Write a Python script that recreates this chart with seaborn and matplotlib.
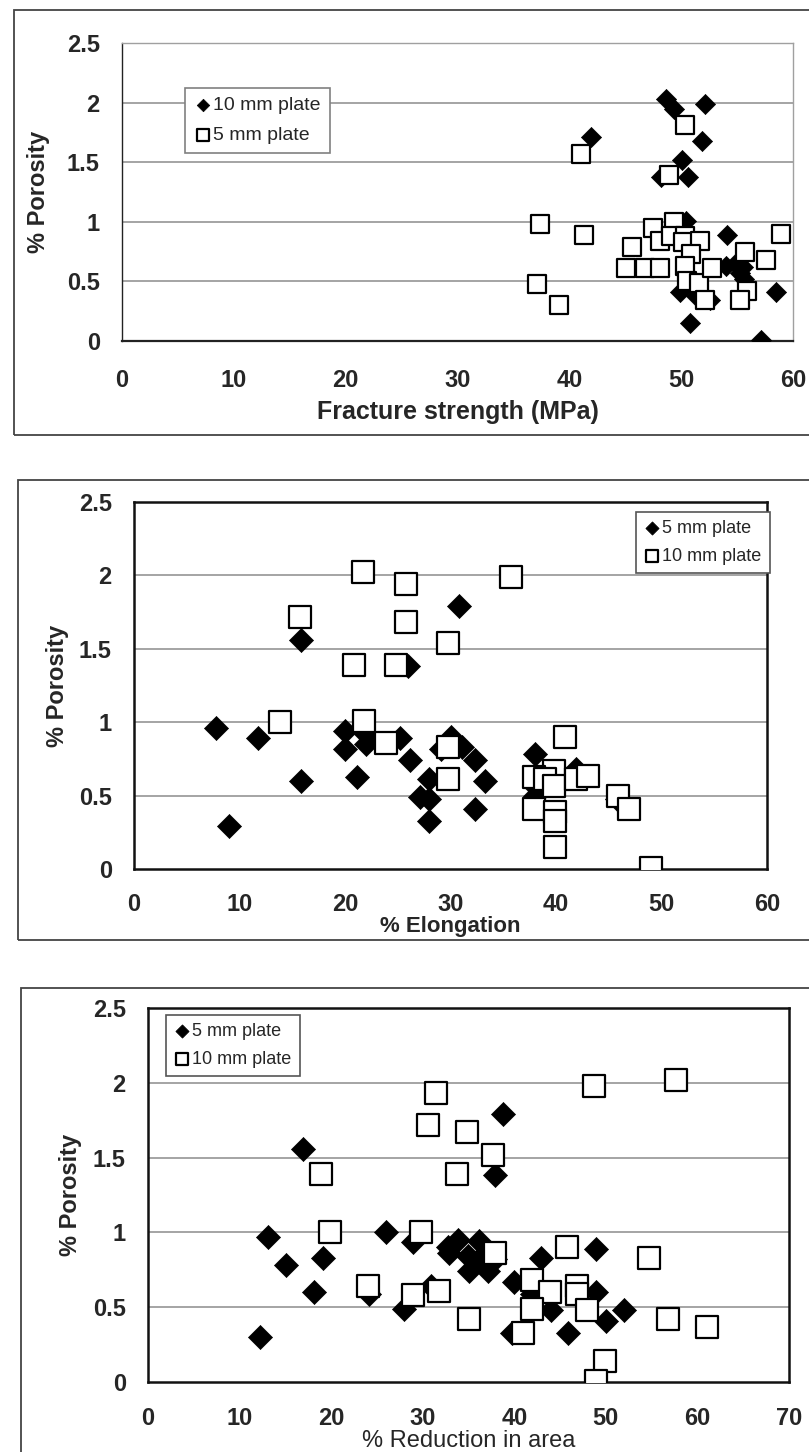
import matplotlib
matplotlib.use("Agg")
import matplotlib.pyplot as plt
import seaborn as sns
import pandas as pd
from matplotlib.patches import Rectangle
from matplotlib.ticker import FuncFormatter

# ---- porosity vs fracture strength ----
fs_10mm_x = [48.6, 49.4, 52.1, 41.9, 51.9, 50.1, 48.2, 50.6, 50.4, 54.1, 54.0,
             55.2, 55.5, 55.3, 55.6, 55.0, 49.9, 51.3, 52.6, 50.8, 58.5, 57.1]
fs_10mm_y = [2.03, 1.95, 1.99, 1.71, 1.68, 1.52, 1.38, 1.38, 1.01, 0.89, 0.63,
             0.68, 0.62, 0.57, 0.52, 0.64, 0.41, 0.38, 0.34, 0.15, 0.41, 0.01]
fs_5mm_x = [50.3, 41.0, 48.9, 37.4, 41.3, 37.1, 39.1, 45.6, 45.1, 46.8, 48.1,
            47.5, 48.1, 49.4, 49.1, 50.3, 50.2, 51.7, 50.9, 50.3, 50.5, 51.6,
            52.1, 52.8, 55.7, 55.9, 55.3, 57.6, 58.9]
fs_5mm_y = [1.81, 1.57, 1.39, 0.98, 0.89, 0.48, 0.30, 0.79, 0.61, 0.61, 0.61,
            0.95, 0.84, 1.00, 0.88, 0.88, 0.83, 0.84, 0.73, 0.63, 0.50, 0.49,
            0.34, 0.61, 0.75, 0.42, 0.34, 0.68, 0.90]

# ---- porosity vs elongation ----
el_5mm_x = [7.8, 9.0, 11.8, 15.8, 15.8, 20.0, 20.0, 21.1, 22.0, 22.0, 25.2,
            26.0, 26.2, 27.1, 28.0, 28.0, 28.0, 29.1, 30.0, 31.1, 30.8, 32.3,
            32.3, 33.3, 38.0, 38.0, 37.9, 41.9, 45.8]
el_5mm_y = [0.96, 0.29, 0.89, 1.56, 0.60, 0.94, 0.82, 0.63, 0.92, 0.85, 0.89,
            1.38, 0.74, 0.49, 0.61, 0.48, 0.33, 0.82, 0.90, 0.83, 1.79, 0.74,
            0.41, 0.60, 0.78, 0.50, 0.57, 0.68, 0.48]
el_10mm_x = [21.7, 25.8, 35.7, 15.7, 25.8, 29.8, 20.9, 24.8, 13.8, 21.8, 23.9,
             29.8, 29.8, 40.9, 39.8, 37.9, 39.0, 39.8, 41.9, 43.0, 37.9, 39.9,
             39.9, 39.9, 45.9, 46.9, 49.0]
el_10mm_y = [2.02, 1.94, 1.99, 1.72, 1.68, 1.54, 1.39, 1.39, 1.00, 1.01, 0.86,
             0.83, 0.61, 0.90, 0.67, 0.63, 0.61, 0.565, 0.61, 0.635, 0.41, 0.39,
             0.33, 0.15, 0.50, 0.41, 0.01]

# ---- porosity vs reduction in area ----
ra_5mm_x = [16.9, 38.8, 37.9, 13.1, 26.0, 15.1, 19.1, 18.1, 12.2, 24.1, 28.9,
            28.0, 30.9, 32.8, 33.8, 32.9, 36.1, 34.9, 36.2, 35.1, 37.1, 37.9,
            42.9, 48.9, 40.0, 41.9, 44.0, 48.9, 52.0, 50.0, 45.9, 39.7]
ra_5mm_y = [1.555, 1.79, 1.385, 0.97, 1.00, 0.78, 0.83, 0.60, 0.30, 0.59, 0.935,
            0.49, 0.64, 0.90, 0.95, 0.86, 0.945, 0.845, 0.82, 0.745, 0.745, 0.825,
            0.83, 0.89, 0.67, 0.59, 0.48, 0.60, 0.48, 0.41, 0.33, 0.33]
ra_10mm_x = [31.5, 48.7, 57.7, 30.6, 34.8, 37.7, 18.9, 33.7, 19.9, 29.8, 24.0,
             28.9, 31.8, 35.1, 37.9, 45.8, 54.7, 41.9, 43.9, 46.9, 46.9, 41.9,
             47.9, 41.0, 56.8, 61.0, 49.9, 48.9]
ra_10mm_y = [1.93, 1.98, 2.02, 1.715, 1.67, 1.52, 1.39, 1.39, 1.005, 1.005, 0.64,
             0.58, 0.61, 0.42, 0.86, 0.90, 0.83, 0.68, 0.60, 0.64, 0.59, 0.49,
             0.48, 0.33, 0.42, 0.37, 0.14, 0.01]

y_ticks = [0, 0.5, 1, 1.5, 2, 2.5]

sns.set_style("white")
plt.rcParams["font.family"] = ["Liberation Sans", "DejaVu Sans"]

W, H = 809, 1452
fig = plt.figure(figsize=(W / 100, H / 100), dpi=100)


def frac_rect(left, top, right, bottom):
    return [left / W, 1 - bottom / H, (right - left) / W, (bottom - top) / H]


def panel_border(left, top, bottom):
    fig.add_artist(Rectangle((left / W, 1 - bottom / H), 1.2, (bottom - top) / H,
                             transform=fig.transFigure, fill=False,
                             edgecolor="#444444", linewidth=1.3))


def draw_panel(ax, diam_x, diam_y, diam_lab, sq_x, sq_y, sq_lab, xmax,
               d_size, s_size):
    d = pd.DataFrame({"x": diam_x, "y": diam_y})
    s = pd.DataFrame({"x": sq_x, "y": sq_y})
    sns.scatterplot(data=d, x="x", y="y", ax=ax, marker="D", s=d_size,
                    color="black", edgecolor="black", linewidth=0.5,
                    label=diam_lab, zorder=3)
    sns.scatterplot(data=s, x="x", y="y", ax=ax, marker="s", s=s_size,
                    facecolor="white", edgecolor="black", linewidth=1.6,
                    label=sq_lab, zorder=4)
    ax.set_xlim(0, xmax)
    ax.set_ylim(0, 2.5)
    ax.set_xticks(range(0, xmax + 1, 10))
    ax.set_yticks(y_ticks)
    ax.yaxis.set_major_formatter(FuncFormatter(lambda v, p: f"{v:g}"))
    for yv in [0.5, 1, 1.5, 2]:
        ax.axhline(yv, color="#8c8c8c", linewidth=1.1, zorder=1)
    ax.tick_params(axis="both", direction="out", length=4, width=1,
                   color="#333333", labelsize=17)
    ax.tick_params(axis="x", pad=16)
    ax.tick_params(axis="y", pad=12)
    for lab in ax.get_xticklabels() + ax.get_yticklabels():
        lab.set_fontweight("bold")
    ax.set_facecolor("white")


# ---------- panel 1 ----------
panel_border(14, 10, 435)
ax1 = fig.add_axes(frac_rect(122, 43, 793, 341))
draw_panel(ax1, fs_10mm_x, fs_10mm_y, "10 mm plate",
           fs_5mm_x, fs_5mm_y, "5 mm plate", 60, 105, 175)
for side in ["top", "right"]:
    ax1.spines[side].set_color("#a0a0a0")
    ax1.spines[side].set_linewidth(1.0)
ax1.spines["left"].set_color("#222222")
ax1.spines["left"].set_linewidth(1.0)
ax1.spines["bottom"].set_color("#222222")
ax1.spines["bottom"].set_linewidth(1.6)
ax1.set_xlabel("Fracture strength (MPa)", fontsize=18, fontweight="bold",
               labelpad=6)
ax1.set_ylabel("% Porosity", fontsize=17, fontweight="bold", labelpad=12)
leg1 = ax1.legend(loc="upper left", bbox_to_anchor=(0.094, 0.85), fontsize=14,
                  frameon=True, fancybox=False, edgecolor="#808080",
                  framealpha=1, borderpad=0.45, handletextpad=0.1,
                  handlelength=0.9, labelspacing=0.65, markerscale=0.62,
                  borderaxespad=0)
leg1.get_frame().set_linewidth(1.2)

# ---------- panel 2 ----------
panel_border(18, 480, 940)
ax2 = fig.add_axes(frac_rect(134, 502, 767, 869))
draw_panel(ax2, el_5mm_x, el_5mm_y, "5 mm plate",
           el_10mm_x, el_10mm_y, "10 mm plate", 60, 150, 230)
for side in ax2.spines.values():
    side.set_color("#111111")
    side.set_linewidth(1.8)
ax2.tick_params(axis="x", pad=13)
ax2.set_xlabel("% Elongation", fontsize=16, fontweight="bold", labelpad=0)
ax2.set_ylabel("% Porosity", fontsize=17, fontweight="bold", labelpad=7)
leg2 = ax2.legend(loc="upper left", bbox_to_anchor=(0.793, 0.973), fontsize=13,
                  frameon=True, fancybox=False, edgecolor="#555555",
                  framealpha=1, borderpad=0.45, handletextpad=0.1,
                  handlelength=0.9, labelspacing=0.6, markerscale=0.55,
                  borderaxespad=0)
leg2.get_frame().set_linewidth(1.2)
leg2.set_zorder(6)

# ---------- panel 3 ----------
panel_border(21, 988, 1500)
ax3 = fig.add_axes(frac_rect(148, 1008, 789, 1382))
draw_panel(ax3, ra_5mm_x, ra_5mm_y, "5 mm plate",
           ra_10mm_x, ra_10mm_y, "10 mm plate", 70, 150, 250)
for side in ax3.spines.values():
    side.set_color("#111111")
    side.set_linewidth(1.8)
ax3.tick_params(axis="x", pad=14)
ax3.set_xlabel("% Reduction in area", fontsize=17, labelpad=0)
ax3.set_ylabel("% Porosity", fontsize=17, fontweight="bold", labelpad=8)
leg3 = ax3.legend(loc="upper left", bbox_to_anchor=(0.028, 0.981), fontsize=13,
                  frameon=True, fancybox=False, edgecolor="#555555",
                  framealpha=1, borderpad=0.45, handletextpad=0.1,
                  handlelength=0.9, labelspacing=0.6, markerscale=0.55,
                  borderaxespad=0)
leg3.get_frame().set_linewidth(1.2)

fig.savefig("out.png", dpi=100, facecolor="white")
